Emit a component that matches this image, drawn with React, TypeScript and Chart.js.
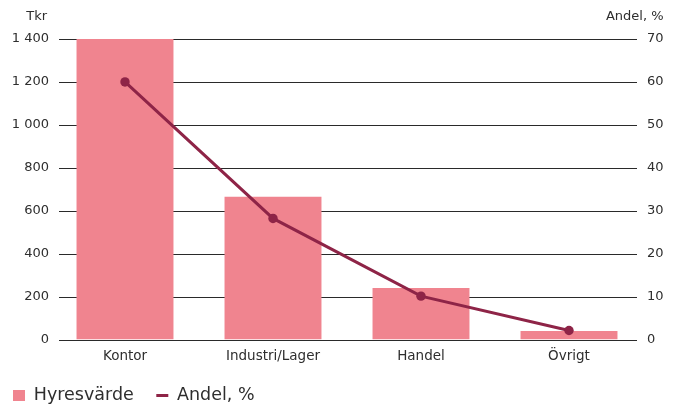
import React, { useEffect, useRef } from "react";
import { Chart, registerables } from "chart.js";

Chart.register(...registerables);

const categories = ["Kontor", "Industri/Lager", "Handel", "Övrigt"];
const hyresvarde = [1400, 665, 240, 40];
const andel = [60, 28.2, 10.1, 2.1];
const leftTicks = [0, 200, 400, 600, 800, 1000, 1200, 1400];
const rightTicks = [0, 10, 20, 30, 40, 50, 60, 70];
const leftTitle = "Tkr";
const rightTitle = "Andel, %";
const seriesNames = ["Hyresvärde", "Andel, %"];

const BAR_COLOR = "#F0848F";
const LINE_COLOR = "#8E2447";
const TEXT_COLOR = "#2e2e2e";
const FONT = "'DejaVu Sans', sans-serif";

const fmt = (v: number) => String(v).replace(/\B(?=(\d{3})+(?!\d))/g, " ");

const gridPlugin = {
  id: "customGrid",
  beforeDatasetsDraw(chart: any) {
    const { ctx, chartArea, scales } = chart;
    const y = scales.y;
    ctx.save();
    ctx.strokeStyle = "#2a2a2a";
    ctx.lineWidth = 1;
    leftTicks.forEach((v) => {
      const py = Math.round(y.getPixelForValue(v)) + 0.5;
      ctx.beginPath();
      ctx.moveTo(chartArea.left + 8, py);
      ctx.lineTo(chartArea.right - 6, py);
      ctx.stroke();
    });
    ctx.restore();
  },
  afterDraw(chart: any) {
    const { ctx, chartArea, scales } = chart;
    ctx.save();
    ctx.font = `13px ${FONT}`;
    ctx.fillStyle = TEXT_COLOR;
    ctx.textBaseline = "middle";
    ctx.textAlign = "right";
    ctx.fillText(leftTitle, scales.y.right - 4, chartArea.top - 22.5);
    ctx.fillText(rightTitle, scales.y1.right - 18.5, chartArea.top - 22.5);
    ctx.restore();
  },
};

export default function App() {
  const ref = useRef<HTMLCanvasElement | null>(null);
  useEffect(() => {
    if (!ref.current) return;
    const chart = new Chart(ref.current, {
      type: "bar",
      data: {
        labels: categories,
        datasets: [
          {
            type: "line",
            label: seriesNames[1],
            data: andel,
            yAxisID: "y1",
            borderColor: LINE_COLOR,
            backgroundColor: LINE_COLOR,
            borderWidth: 3,
            pointRadius: 4.7,
            pointHoverRadius: 4.7,
            pointBackgroundColor: LINE_COLOR,
            pointBorderWidth: 0,
            tension: 0,
            order: 1,
          } as any,
          {
            type: "bar",
            label: seriesNames[0],
            data: hyresvarde,
            yAxisID: "y",
            backgroundColor: BAR_COLOR,
            barPercentage: 0.655,
            categoryPercentage: 1,
            order: 2,
          } as any,
        ],
      },
      options: {
        animation: false,
        responsive: true,
        maintainAspectRatio: false,
        layout: { padding: { left: -9.5, right: 0, top: 39, bottom: -7.25 } },
        plugins: {
          tooltip: { enabled: false },
          legend: {
            position: "bottom",
            align: "start",
            labels: {
              usePointStyle: true,
              pointStyleWidth: 12,
              boxHeight: 11,
              padding: 22.5,
              color: TEXT_COLOR,
              font: { family: FONT, size: 17.5 },
              generateLabels: () => [
                {
                  text: seriesNames[0],
                  fillStyle: BAR_COLOR,
                  strokeStyle: BAR_COLOR,
                  lineWidth: 0,
                  pointStyle: "rect",
                  fontColor: TEXT_COLOR,
                  datasetIndex: 1,
                  hidden: false,
                },
                {
                  text: seriesNames[1],
                  fillStyle: LINE_COLOR,
                  strokeStyle: LINE_COLOR,
                  lineWidth: 3,
                  pointStyle: "line",
                  fontColor: TEXT_COLOR,
                  datasetIndex: 0,
                  hidden: false,
                },
              ],
            },
          },
        },
        scales: {
          x: {
            offset: true,
            afterFit: (s: any) => {
              s.height = 24.75;
            },
            grid: { display: false, drawTicks: false },
            border: { display: false },
            ticks: { color: TEXT_COLOR, font: { family: FONT, size: 13.5 }, padding: 9 },
          },
          y: {
            position: "left",
            min: 0,
            max: 1400,
            afterBuildTicks: (s: any) => {
              s.ticks = leftTicks.map((v) => ({ value: v }));
            },
            afterFit: (s: any) => {
              s.width = 60.5;
            },
            grid: { display: false, drawTicks: false },
            border: { display: false },
            ticks: {
              color: TEXT_COLOR,
              font: { family: FONT, size: 13 },
              padding: 2,
              callback: (v: any) => fmt(Number(v)),
            },
          },
          y1: {
            position: "right",
            min: 0,
            max: 70,
            afterBuildTicks: (s: any) => {
              s.ticks = rightTicks.map((v) => ({ value: v }));
            },
            afterFit: (s: any) => {
              s.width = 39;
            },
            grid: { display: false, drawTicks: false },
            border: { display: false },
            ticks: {
              color: TEXT_COLOR,
              font: { family: FONT, size: 13 },
              padding: 4,
            },
          },
        },
      },
      plugins: [gridPlugin],
    });
    return () => chart.destroy();
  }, []);
  return (
    <div style={{ position: "absolute", left: 0, top: 0, width: 682, height: 407 }}>
      <canvas ref={ref} />
    </div>
  );
}
